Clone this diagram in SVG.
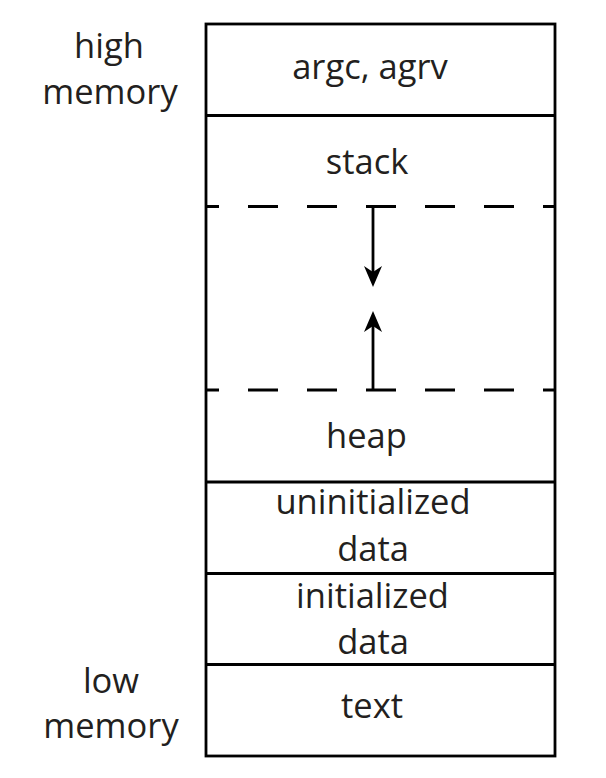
<svg xmlns="http://www.w3.org/2000/svg" width="606" height="778" viewBox="0 0 606 778">
<style>
.lbl{font-family:"Open Sans","Noto Sans","Liberation Sans",sans-serif;font-size:34.5px;font-weight:500;fill:#231f20;text-anchor:middle}
.ln{stroke:#000;stroke-width:2.8;fill:none}
.dash{stroke:#000;stroke-width:2.8;fill:none;stroke-dasharray:30 29;stroke-dashoffset:17}
.arr{stroke:#000;stroke-width:2.8;fill:none;marker-end:url(#ah)}
</style>
<defs>
<marker id="ah" markerUnits="userSpaceOnUse" viewBox="0 0 21 18" markerWidth="21" markerHeight="18" refX="15" refY="9" orient="auto">
<path d="M0,0 L21,9 L0,18 L6,9 z" fill="#000"/>
</marker>
</defs>
<rect width="606" height="778" fill="#fff"/>
<g id="labels-side">
<g id="high-memory"><text class="lbl" x="109" y="58">high</text><text class="lbl" x="110" y="104">memory</text></g>
<g id="low-memory"><text class="lbl" x="111" y="693">low</text><text class="lbl" x="111" y="738">memory</text></g>
</g>
<g id="memory-column">
<rect class="ln" x="206" y="24" width="349" height="732"/>
<g id="argc"><text class="lbl" x="370" y="79">argc, agrv</text></g>
<g id="stack"><line class="ln" x1="206" y1="115.5" x2="555" y2="115.5"/><text class="lbl" x="367" y="174">stack</text></g>
<g id="free"><line class="dash" x1="206" y1="206.5" x2="555" y2="206.5"/><line class="dash" x1="206" y1="390" x2="555" y2="390"/></g>
<g id="heap"><text class="lbl" x="366.5" y="448">heap</text></g>
<g id="uninit"><line class="ln" x1="206" y1="482" x2="555" y2="482"/><text class="lbl" x="373" y="514">uninitialized</text><text class="lbl" x="373" y="560.5">data</text></g>
<g id="init"><line class="ln" x1="206" y1="573.5" x2="555" y2="573.5"/><text class="lbl" x="372.5" y="607.5">initialized</text><text class="lbl" x="373" y="654">data</text></g>
<g id="text"><line class="ln" x1="206" y1="664.5" x2="555" y2="664.5"/><text class="lbl" x="372" y="718">text</text></g>
</g>
<g id="connectors">
<line class="arr" x1="373" y1="208" x2="373" y2="281"/>
<line class="arr" x1="373" y1="390" x2="373" y2="317"/>
</g>
</svg>
